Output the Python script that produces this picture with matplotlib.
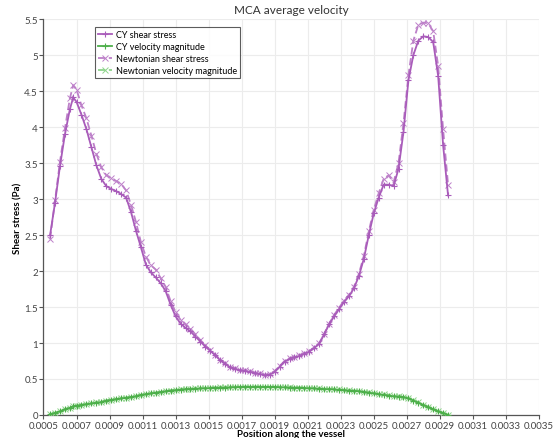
import matplotlib
matplotlib.use("Agg")
import matplotlib.pyplot as plt

plt.rcParams['font.family'] = ['Lato', 'DejaVu Sans']

# Position along the vessel (m)
position = [
    0.00054, 0.00057, 0.00060, 0.00063, 0.00066, 0.00068, 0.00070, 0.00073, 0.00076, 0.00079,
    0.00082, 0.00085, 0.00088, 0.00091, 0.00094, 0.00097, 0.00100, 0.00103, 0.00106, 0.00109,
    0.00112, 0.00115, 0.00118, 0.00121, 0.00124, 0.00127, 0.00130, 0.00133, 0.00136, 0.00139,
    0.00142, 0.00145, 0.00148, 0.00151, 0.00154, 0.00157, 0.00160, 0.00163, 0.00166, 0.00169,
    0.00172, 0.00175, 0.00178, 0.00181, 0.00184, 0.00187, 0.00190, 0.00193, 0.00196, 0.00199,
    0.00202, 0.00205, 0.00208, 0.00211, 0.00214, 0.00217, 0.00220, 0.00223, 0.00226, 0.00229,
    0.00232, 0.00235, 0.00238, 0.00241, 0.00244, 0.00247, 0.00250, 0.00253, 0.00256, 0.00259,
    0.00262, 0.00265, 0.00268, 0.00271, 0.00274, 0.00277, 0.00280, 0.00283, 0.00286, 0.00289,
    0.00292, 0.00295,
]

cy_shear = [
    2.50, 2.95, 3.46, 3.90, 4.25, 4.41, 4.35, 4.17, 3.97, 3.72,
    3.47, 3.28, 3.18, 3.14, 3.11, 3.07, 3.02, 2.82, 2.56, 2.33,
    2.09, 1.98, 1.91, 1.83, 1.72, 1.53, 1.37, 1.27, 1.21, 1.16,
    1.09, 1.02, 0.95, 0.89, 0.83, 0.76, 0.71, 0.66, 0.64, 0.62,
    0.61, 0.60, 0.58, 0.57, 0.55, 0.56, 0.60, 0.67, 0.74, 0.78,
    0.80, 0.82, 0.85, 0.88, 0.93, 0.99, 1.12, 1.26, 1.37, 1.47,
    1.57, 1.65, 1.76, 1.93, 2.17, 2.50, 2.80, 3.02, 3.20, 3.20,
    3.18, 3.42, 3.93, 4.65, 5.00, 5.20, 5.26, 5.25, 5.18, 4.71,
    3.75, 3.05,
]

newt_shear = [
    2.45, 2.98, 3.52, 3.98, 4.40, 4.58, 4.52, 4.30, 4.12, 3.88,
    3.63, 3.44, 3.33, 3.29, 3.25, 3.21, 3.12, 2.92, 2.68, 2.40,
    2.20, 2.08, 2.02, 1.90, 1.78, 1.58, 1.43, 1.32, 1.26, 1.20,
    1.12, 1.04, 0.97, 0.90, 0.84, 0.77, 0.72, 0.67, 0.65, 0.63,
    0.62, 0.61, 0.59, 0.58, 0.56, 0.57, 0.61, 0.68, 0.75, 0.79,
    0.81, 0.83, 0.86, 0.89, 0.94, 1.00, 1.13, 1.27, 1.39, 1.49,
    1.59, 1.67, 1.78, 1.96, 2.21, 2.55, 2.85, 3.08, 3.28, 3.33,
    3.23, 3.50, 4.05, 4.72, 5.20, 5.42, 5.45, 5.44, 5.33, 4.85,
    3.97, 3.20,
]

cy_velocity = [
    0.01, 0.03, 0.05, 0.08, 0.10, 0.12, 0.13, 0.14, 0.15, 0.16,
    0.17, 0.18, 0.20, 0.21, 0.22, 0.23, 0.24, 0.25, 0.26, 0.28,
    0.29, 0.30, 0.31, 0.32, 0.33, 0.34, 0.345, 0.35, 0.36, 0.36,
    0.365, 0.37, 0.37, 0.375, 0.38, 0.38, 0.38, 0.385, 0.385, 0.39,
    0.39, 0.39, 0.39, 0.39, 0.39, 0.39, 0.39, 0.385, 0.385, 0.38,
    0.38, 0.38, 0.375, 0.37, 0.37, 0.365, 0.36, 0.36, 0.355, 0.35,
    0.345, 0.34, 0.335, 0.33, 0.32, 0.31, 0.30, 0.29, 0.28, 0.27,
    0.26, 0.255, 0.25, 0.23, 0.20, 0.17, 0.14, 0.11, 0.08, 0.05,
    0.03, 0.00,
]

newt_velocity = [
    0.01, 0.03, 0.05, 0.08, 0.10, 0.12, 0.13, 0.14, 0.155, 0.165,
    0.175, 0.185, 0.20, 0.21, 0.22, 0.23, 0.24, 0.25, 0.265, 0.28,
    0.29, 0.30, 0.31, 0.32, 0.33, 0.34, 0.35, 0.355, 0.36, 0.365,
    0.37, 0.37, 0.375, 0.38, 0.38, 0.385, 0.385, 0.39, 0.39, 0.39,
    0.395, 0.395, 0.395, 0.395, 0.39, 0.39, 0.39, 0.39, 0.385, 0.385,
    0.38, 0.38, 0.38, 0.375, 0.37, 0.37, 0.365, 0.36, 0.36, 0.355,
    0.35, 0.345, 0.34, 0.335, 0.325, 0.315, 0.305, 0.295, 0.285, 0.275,
    0.265, 0.26, 0.25, 0.235, 0.205, 0.175, 0.145, 0.115, 0.085, 0.055,
    0.03, 0.00,
]

x_ticks = [0.0005, 0.0007, 0.0009, 0.0011, 0.0013, 0.0015, 0.0017, 0.0019,
           0.0021, 0.0023, 0.0025, 0.0027, 0.0029, 0.0031, 0.0033, 0.0035]
x_tick_labels = ["0.0005", "0.0007", "0.0009", "0.0011", "0.0013", "0.0015", "0.0017",
                 "0.0019", "0.0021", "0.0023", "0.0025", "0.0027", "0.0029", "0.0031",
                 "0.0033", "0.0035"]
y_ticks = [0, 0.5, 1, 1.5, 2, 2.5, 3, 3.5, 4, 4.5, 5, 5.5]
y_tick_labels = ["0", "0.5", "1", "1.5", "2", "2.5", "3", "3.5", "4", "4.5", "5", "5.5"]

title = "MCA average velocity"
xlabel = "Position along the vessel"
ylabel = "Shear stress (Pa)"
series_labels = ["CY shear stress", "CY velocity magnitude",
                 "Newtonian shear stress", "Newtonian velocity magnitude"]

purple = "#a95cba"
purple_light = "#bd80c9"
green = "#4daf4a"
green_light = "#8fd48c"

fig = plt.figure(figsize=(5.59, 4.39), dpi=100)
ax = fig.add_axes([0.0778, 0.0524, 0.8862, 0.902])

ax.plot(position, cy_shear, color=purple, lw=1.3, marker='+', ms=5, mew=0.8,
        label=series_labels[0], zorder=4)
ax.plot(position, cy_velocity, color=green, lw=1.3, marker='+', ms=5, mew=0.8,
        label=series_labels[1], zorder=4)
ax.plot(position, newt_shear, color=purple_light, lw=1.3, ls=(0, (4, 2)), marker='x',
        ms=4.5, mew=0.7, label=series_labels[2], zorder=3)
ax.plot(position, newt_velocity, color=green_light, lw=1.3, ls=(0, (4, 2)), marker='x',
        ms=4.5, mew=0.7, label=series_labels[3], zorder=3)

ax.set_xlim(0.0005, 0.0035)
ax.set_ylim(0, 5.5)
ax.set_xticks(x_ticks)
ax.set_xticklabels(x_tick_labels)
ax.set_yticks(y_ticks)
ax.set_yticklabels(y_tick_labels)

ax.grid(True, color="#ececec", lw=0.8)
ax.set_axisbelow(True)
for s in ("top", "right"):
    ax.spines[s].set_visible(False)
for s in ("left", "bottom"):
    ax.spines[s].set_color("#555555")
    ax.spines[s].set_linewidth(0.9)
ax.tick_params(axis='both', labelsize=7, colors="#555555", labelcolor="#444444",
               length=3, width=0.8, pad=1)

ax.set_title(title, fontsize=8.5, color="#333333", pad=4)
ax.set_xlabel(xlabel, fontsize=7, fontweight='bold', labelpad=0)
ax.xaxis.set_label_coords(0.5, -0.035)
ax.set_ylabel(ylabel, fontsize=7, fontweight='bold')
ax.yaxis.set_label_coords(-0.043, 0.5)

leg = ax.legend(loc='upper left', bbox_to_anchor=(0.1, 0.985), fontsize=6.5,
                frameon=True, fancybox=False, handlelength=1.6, handletextpad=0.4,
                borderpad=0.35, labelspacing=0.33, borderaxespad=0.2)
leg.get_frame().set_edgecolor("#333333")
leg.get_frame().set_linewidth(0.8)

fig.savefig("out.png", dpi=100)
